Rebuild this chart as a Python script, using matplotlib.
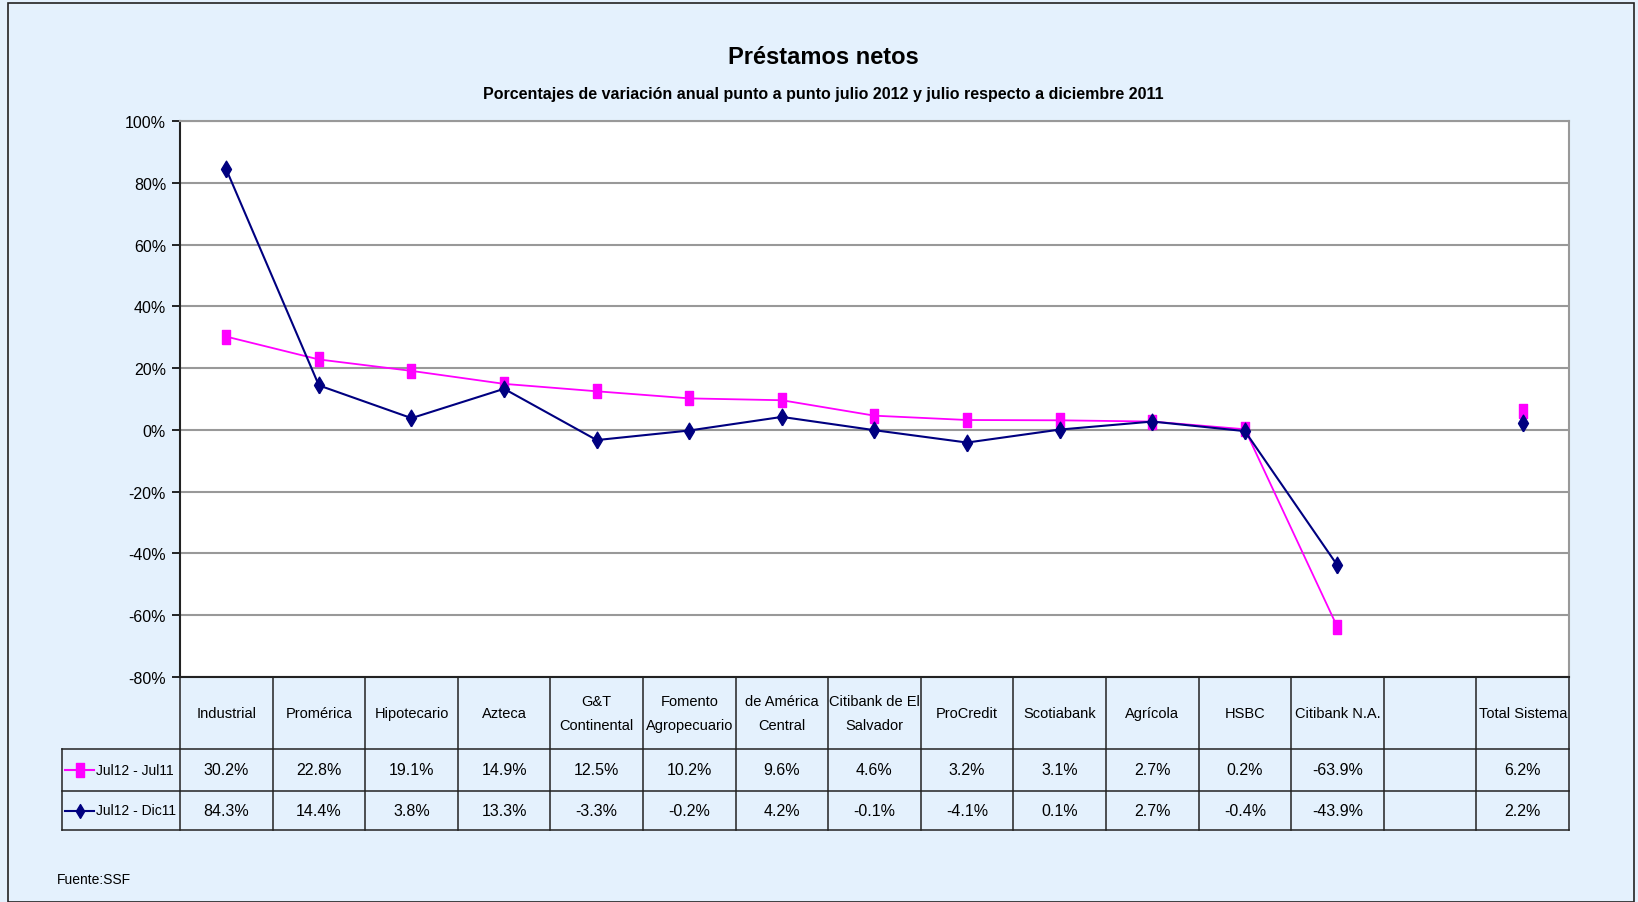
import numpy as np
import matplotlib
matplotlib.use("Agg")
import matplotlib.pyplot as plt
import matplotlib.transforms as mtrans
from matplotlib.lines import Line2D
from matplotlib.patches import Rectangle

plt.rcParams['font.family'] = ['Liberation Sans', 'DejaVu Sans']

# datos
bancos = ["Industrial", "Promérica", "Hipotecario", "Azteca", "G&T\nContinental",
          "Fomento\nAgropecuario", "de América\nCentral", "Citibank de El\nSalvador",
          "ProCredit", "Scotiabank", "Agrícola", "HSBC", "Citibank N.A.", "",
          "Total Sistema"]
jul12_jul11 = [30.2, 22.8, 19.1, 14.9, 12.5, 10.2, 9.6, 4.6, 3.2, 3.1, 2.7, 0.2, -63.9,
               np.nan, 6.2]
jul12_dic11 = [84.3, 14.4, 3.8, 13.3, -3.3, -0.2, 4.2, -0.1, -4.1, 0.1, 2.7, -0.4, -43.9,
               np.nan, 2.2]
series_names = ["Jul12 - Jul11", "Jul12 - Dic11"]
yticks = [-80, -60, -40, -20, 0, 20, 40, 60, 80, 100]

W, H = 1638, 903
fig = plt.figure(figsize=(W / 100, H / 100), dpi=100)
fig.patch.set_facecolor('#e4f1fd')

# borde de la figura
fig.patches.append(Rectangle((8 / W, 0), (1634 - 8) / W, (H - 4) / H, transform=fig.transFigure,
                             fill=False, ec='#222222', lw=1.2))

# area del grafico (pixeles)
px_l, px_r, px_t, px_b = 180, 1569, 122, 678
ax = fig.add_axes([px_l / W, (H - px_b) / H, (px_r - px_l) / W, (px_b - px_t) / H])
ax.set_facecolor('white')

sq = [(-0.6, -1), (0.6, -1), (0.6, 1), (-0.6, 1), (-0.6, -1)]
dm = [(0, -1), (0.6, 0), (0, 1), (-0.6, 0), (0, -1)]
colors = ['#ff00ff', '#000080']
markers = [sq, dm]

x = np.arange(len(bancos))
ax.plot(x, jul12_jul11, color=colors[0], lw=1.3, marker=sq, ms=10, mec=colors[0], zorder=3)
ax.plot(x, jul12_dic11, color=colors[1], lw=1.5, marker=dm, ms=12, mec=colors[1], zorder=4)

ax.set_xlim(-0.5, len(bancos) - 0.5)
ax.set_ylim(-80, 100)
ax.set_yticks(yticks)
ax.set_yticklabels(["%d%%" % v for v in yticks], fontsize=11.5)
ax.set_xticks([])
ax.yaxis.grid(True, color='#999999', lw=1.5)
ax.set_axisbelow(True)
ax.tick_params(axis='y', direction='out', length=6, width=1.2, pad=4)
ax.spines['left'].set_color('#222222')
ax.spines['bottom'].set_color('#222222')
ax.spines['top'].set_color('#999999')
ax.spines['right'].set_color('#999999')
for s in ax.spines.values():
    s.set_linewidth(1.5)

# titulos
fig.text(823 / W, 1 - 57 / H, "Préstamos netos", ha='center', va='center',
         fontsize=17, fontweight='bold')
fig.text(823 / W, 1 - 95 / H, "Porcentajes de variación anual punto a punto julio 2012 y julio respecto a diciembre 2011",
         ha='center', va='center', fontsize=11.5, fontweight='bold')

# tabla de datos
trans = mtrans.blended_transform_factory(ax.transData, ax.transAxes)
ah = px_b - px_t
y_cat = -(750 - px_b) / ah
y_r1 = -(792 - px_b) / ah
y_r2 = -(831 - px_b) / ah
x_leg = (62 - px_l) / (px_r - px_l) * len(bancos) - 0.5
x_end = len(bancos) - 0.5
lc = '#222222'


def hline(y, x0, x1):
    ax.add_line(Line2D([x0, x1], [y, y], transform=trans, color=lc, lw=1.1, clip_on=False))


def vline(xv, y0, y1):
    ax.add_line(Line2D([xv, xv], [y0, y1], transform=trans, color=lc, lw=1.1, clip_on=False))


for i in range(len(bancos) + 1):
    vline(i - 0.5, 0, y_r2)
vline(x_leg, y_cat, y_r2)
hline(y_cat, x_leg, x_end)
hline(y_r1, x_leg, x_end)
hline(y_r2, x_leg, x_end)

for i, b in enumerate(bancos):
    ax.text(i, y_cat / 2, b, transform=trans, ha='center', va='center', fontsize=10.5,
            linespacing=1.9)
    for vals, yc in ((jul12_jul11, (y_cat + y_r1) / 2), (jul12_dic11, (y_r1 + y_r2) / 2)):
        if not np.isnan(vals[i]):
            ax.text(i, yc, "%.1f%%" % vals[i], transform=trans, ha='center', va='center',
                    fontsize=11.5)

# leyenda dentro de la tabla
col_w = len(bancos) / (px_r - px_l)
for k, (name, yc) in enumerate(zip(series_names, [(y_cat + y_r1) / 2, (y_r1 + y_r2) / 2])):
    xa = x_leg + (65 - 62) * col_w
    xb = x_leg + (94 - 62) * col_w
    ax.add_line(Line2D([xa, xb], [yc, yc], transform=trans, color=colors[k], lw=1.5,
                       clip_on=False))
    ax.add_line(Line2D([(xa + xb) / 2], [yc], transform=trans, color=colors[k],
                       marker=markers[k], ms=10, mec=colors[k], clip_on=False))
    ax.text(x_leg + (96 - 62) * col_w, yc, name, transform=trans, ha='left', va='center',
            fontsize=10)

fig.text(57 / W, 1 - 880 / H, "Fuente:SSF", ha='left', va='center', fontsize=10)

fig.savefig("out.png", dpi=100, facecolor=fig.get_facecolor())
